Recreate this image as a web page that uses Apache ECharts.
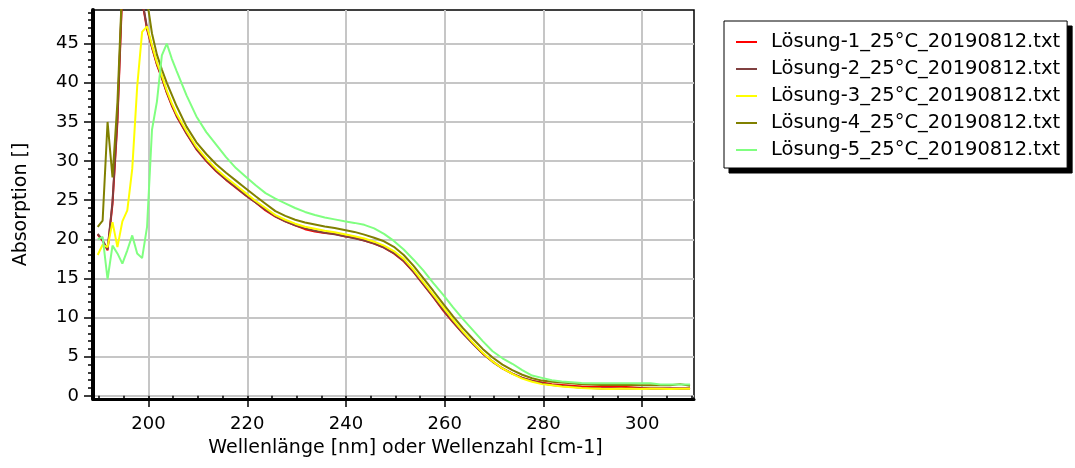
<!DOCTYPE html>
<html>
<head>
<meta charset="utf-8">
<script src="https://cdn.jsdelivr.net/npm/echarts@6/dist/echarts.min.js"></script>
<style>
html,body{margin:0;padding:0;background:#fff;}
#chart{width:1075px;height:468px;}
</style>
</head>
<body>
<div id="chart"></div>
<script>
// Wavelengths (nm)
var wavelengths = [189.7,190.7,191.7,192.7,193.7,194.7,195.7,196.7,197.7,198.7,199.7,200.7,201.7,202.7,203.7,204.7,205.7,
207.7,209.7,211.7,213.7,215.7,217.7,219.7,221.7,223.7,225.7,227.7,229.7,231.7,233.7,235.7,237.7,239.7,241.7,243.7,245.7,247.7,249.7,251.7,253.7,255.7,257.7,259.7,261.7,263.7,265.7,267.7,269.7,271.7,273.7,275.7,277.7,279.7,281.7,283.7,285.7,287.7,289.7,291.7,293.7,295.7,297.7,299.7,301.7,303.7,305.7,307.7,309.7];

var seriesNames = ['Lösung-1_25°C_20190812.txt','Lösung-2_25°C_20190812.txt','Lösung-3_25°C_20190812.txt','Lösung-4_25°C_20190812.txt','Lösung-5_25°C_20190812.txt'];

var loesung1 = [20.6,19.8,18.6,24.5,35.0,52.0,62.0,66.0,62.0,50.5,46.8,44.5,42.3,40.6,38.7,37.1,35.7,
33.5,31.5,30.0,28.7,27.6,26.6,25.6,24.7,23.7,22.9,22.3,21.8,21.3,21.0,20.8,20.7,20.4,20.2,19.85,19.45,18.95,18.2,17.2,15.8,14.2,12.6,10.9,9.4,8.0,6.7,5.4,4.4,3.5,2.85,2.3,1.95,1.7,1.5,1.4,1.3,1.2,1.15,1.15,1.15,1.15,1.1,1.0,0.95,0.95,0.95,0.95,0.95];

var loesung2 = [20.7,19.9,18.7,24.8,35.5,52.5,62.5,66.5,62.0,50.7,47.0,44.6,42.4,40.7,38.8,37.2,35.8,
33.55,31.55,30.05,28.75,27.65,26.65,25.65,24.7,23.8,22.95,22.3,21.8,21.4,21.1,20.85,20.65,20.4,20.15,19.85,19.45,18.95,18.25,17.25,15.85,14.25,12.65,11.0,9.45,8.0,6.65,5.4,4.35,3.5,2.85,2.3,1.9,1.6,1.4,1.25,1.15,1.05,1.0,0.95,0.95,0.95,0.95,0.95,0.95,0.95,0.95,0.95,0.95];

var loesung3 = [18.0,19.3,19.0,22.2,19.0,22.3,23.7,29.0,39.5,46.5,47.2,44.8,42.6,40.9,39.0,37.4,36.0,
33.8,31.8,30.3,29.0,27.9,26.9,25.9,24.9,24.0,23.1,22.5,22.0,21.6,21.35,21.1,20.9,20.65,20.4,20.1,19.7,19.2,18.5,17.5,16.1,14.5,12.9,11.3,9.7,8.2,6.8,5.5,4.4,3.5,2.8,2.2,1.8,1.5,1.35,1.2,1.1,1.0,0.95,0.9,0.88,0.9,0.9,0.88,0.9,0.9,0.88,0.9,0.9];

var loesung4 = [21.6,22.4,35.0,27.9,37.5,53.0,68.0,75.0,70.0,58.0,50.5,46.3,43.6,41.7,40.0,38.5,37.0,
34.4,32.4,30.9,29.6,28.5,27.5,26.5,25.5,24.55,23.6,23.0,22.5,22.15,21.9,21.65,21.45,21.2,20.95,20.6,20.2,19.75,19.05,18.0,16.6,15.0,13.4,11.75,10.15,8.65,7.3,6.0,4.9,4.0,3.3,2.7,2.25,1.95,1.8,1.7,1.6,1.5,1.45,1.4,1.4,1.4,1.4,1.35,1.35,1.35,1.35,1.5,1.3];

var loesung5 = [20.0,20.3,14.9,19.2,18.2,16.9,18.6,20.5,18.2,17.6,21.6,34.0,37.6,43.5,45.0,43.1,41.5,
38.4,35.7,33.7,32.1,30.5,29.1,28.0,26.9,25.9,25.2,24.6,24.0,23.5,23.1,22.8,22.55,22.3,22.1,21.85,21.4,20.7,19.8,18.7,17.4,16.0,14.4,12.9,11.3,9.8,8.4,7.0,5.7,4.8,4.1,3.3,2.6,2.3,2.0,1.85,1.75,1.65,1.6,1.6,1.6,1.6,1.6,1.6,1.6,1.45,1.45,1.45,1.45];

var xMajorTicks = [200,220,240,260,280,300];
var xMinorTicks = [190,195,200,205,210,215,220,225,230,235,240,245,250,255,260,265,270,275,280,285,290,295,300,305,310];
var yMajorTicks = [0,5,10,15,20,25,30,35,40,45];
var yMinorTicks = [0,1,2,3,4,5,6,7,8,9,10,11,12,13,14,15,16,17,18,19,20,21,22,23,24,25,26,27,28,29,30,31,32,33,34,35,36,37,38,39,40,41,42,43,44,45,46,47,48,49];

var colors = ['#ff0000','#804040','#ffff00','#808000','#80ff80'];
var allSeries = [loesung1, loesung2, loesung3, loesung4, loesung5];

var FONT = 'DejaVu Sans';
var X_MIN = 188.75, X_MAX = 310.5, Y_MIN = -0.4, Y_MAX = 49.3;

var chart = echarts.init(document.getElementById('chart'), null, {renderer:'canvas'});

var gridBox = {left:93, right:381, top:10, bottom:69};

var legendCommon = {
  orient: 'vertical',
  padding: [11, 7, 8, 12],
  itemGap: 7,
  itemWidth: 21, itemHeight: 2,
  icon: 'rect',
  selectedMode: false,
  data: seriesNames
};

var option = {
  animation: false,
  backgroundColor: '#ffffff',
  grid: [
    Object.assign({show:true, borderColor:'#000', borderWidth:1.5, backgroundColor:'#fff'}, gridBox),
    Object.assign({show:false}, gridBox)
  ],
  legend: [
    // drop shadow box
    Object.assign({}, legendCommon, {
      left: 729, top: 26, z: 3,
      backgroundColor: '#000', borderColor: '#000', borderWidth: 1,
      itemStyle: {opacity: 0},
      textStyle: {fontFamily: FONT, fontSize: 19.5, color: 'rgba(0,0,0,0)', lineHeight: 20, padding: [0,0,0,9]}
    }),
    // main legend box
    Object.assign({}, legendCommon, {
      left: 724, top: 21, z: 4,
      backgroundColor: '#fff', borderColor: '#000', borderWidth: 1,
      textStyle: {fontFamily: FONT, fontSize: 19.5, color: '#000', lineHeight: 20, padding: [0,0,0,9]}
    })
  ],
  xAxis: [
    {
      type: 'value', gridIndex: 0, min: X_MIN, max: X_MAX,
      name: 'Wellenlänge [nm] oder Wellenzahl [cm-1]',
      nameLocation: 'middle', nameGap: 40,
      nameTextStyle: {fontFamily: FONT, fontSize: 19, color: '#000', padding: [0,0,0,24]},
      axisLine: {show: true, onZero: false, lineStyle: {color: '#000', width: 3}},
      axisTick: {show: true, customValues: xMajorTicks, length: 8, lineStyle: {color: '#000', width: 1.5}},
      axisLabel: {show: true, customValues: xMajorTicks, margin: 16, fontFamily: FONT, fontSize: 18, color: '#000'},
      splitLine: {show: true, lineStyle: {color: '#c6c6c6', width: 2}}
    },
    {
      type: 'value', gridIndex: 1, min: X_MIN, max: X_MAX,
      axisLine: {show: false},
      axisTick: {show: true, customValues: xMinorTicks, length: 4, lineStyle: {color: '#000', width: 1.5}},
      axisLabel: {show: false},
      splitLine: {show: false}
    }
  ],
  yAxis: [
    {
      type: 'value', gridIndex: 0, min: Y_MIN, max: Y_MAX,
      name: 'Absorption []',
      nameLocation: 'middle', nameGap: 62, nameRotate: 90,
      nameTextStyle: {fontFamily: FONT, fontSize: 19, color: '#000'},
      axisLine: {show: true, onZero: false, lineStyle: {color: '#000', width: 4}},
      axisTick: {show: true, customValues: yMajorTicks, length: 9, lineStyle: {color: '#000', width: 1.5}},
      axisLabel: {show: true, customValues: yMajorTicks, margin: 14, fontFamily: FONT, fontSize: 18, color: '#000'},
      splitLine: {show: true, lineStyle: {color: '#c6c6c6', width: 2}}
    },
    {
      type: 'value', gridIndex: 1, min: Y_MIN, max: Y_MAX,
      axisLine: {show: false},
      axisTick: {show: true, customValues: yMinorTicks, length: 5, lineStyle: {color: '#000', width: 1.5}},
      axisLabel: {show: false},
      splitLine: {show: false}
    }
  ],
  series: allSeries.map(function (vals, k) {
    return {
      name: seriesNames[k],
      type: 'line',
      xAxisIndex: 0, yAxisIndex: 0,
      data: wavelengths.map(function (w, i) { return [w, vals[i]]; }),
      showSymbol: false, symbol: 'none',
      clip: true,
      lineStyle: {color: colors[k], width: 2},
      itemStyle: {color: colors[k]},
      emphasis: {disabled: true},
      silent: true
    };
  })
};
chart.setOption(option);
</script>
</body>
</html>
